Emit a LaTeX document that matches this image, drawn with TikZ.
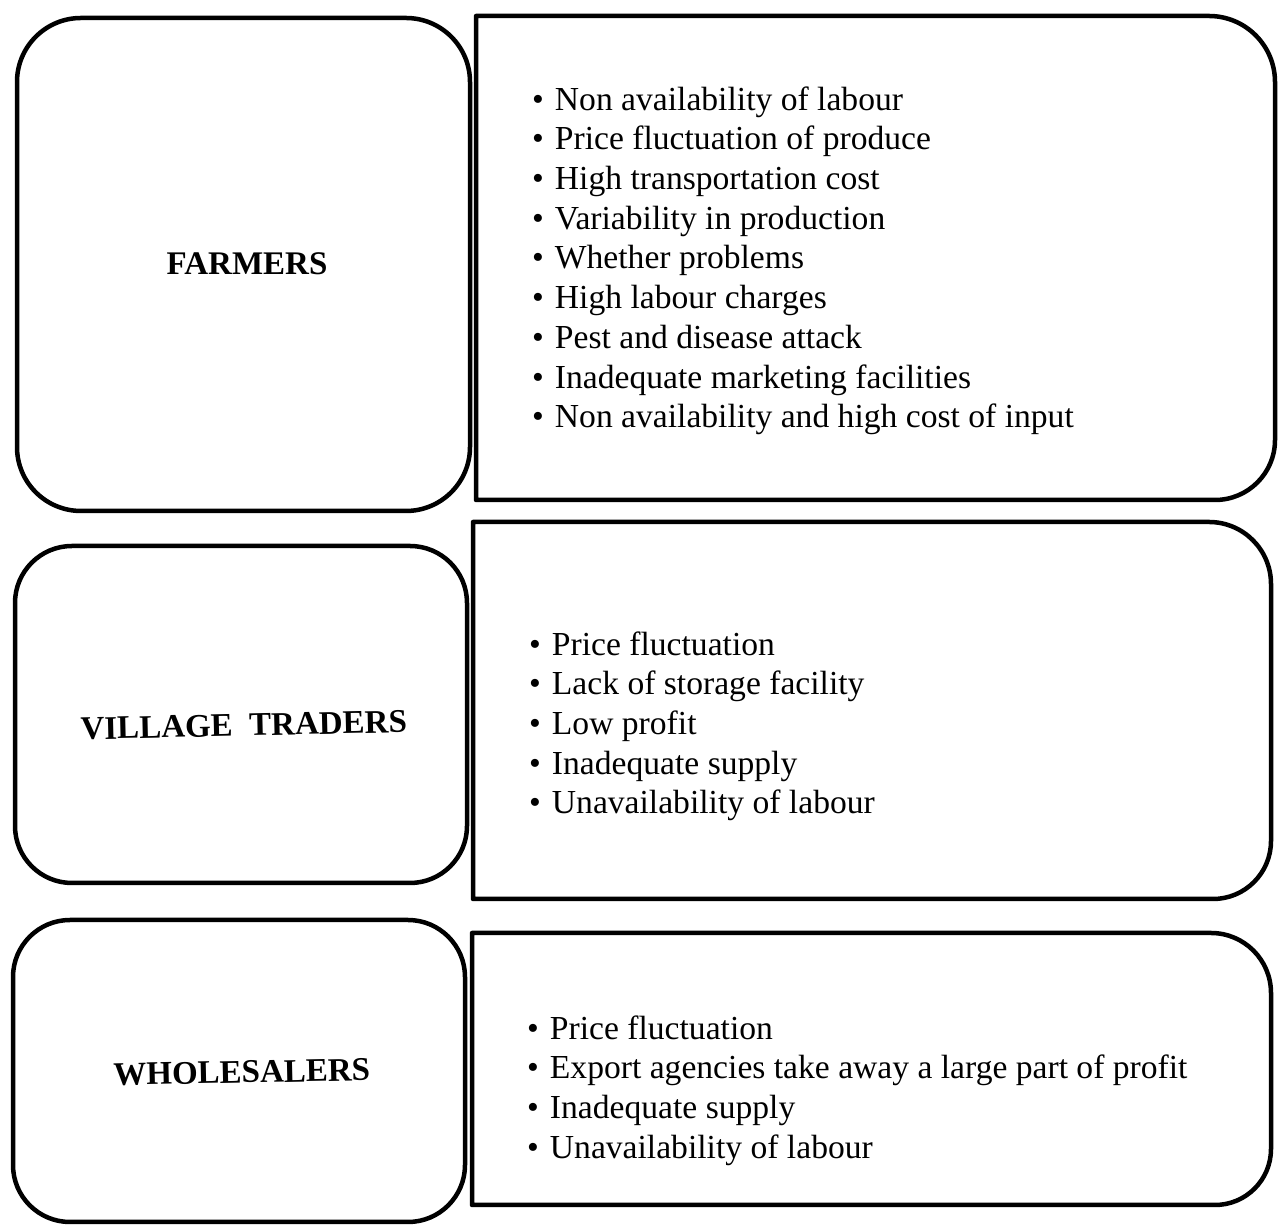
\documentclass[tikz,border=0pt]{standalone}
\usepackage{fontspec}
\setmainfont{Liberation Serif}
\begin{document}
\begin{tikzpicture}[x=1pt,y=1pt,
  frame/.style={draw=black, line width=4.5pt, line join=round},
  title/.style={font=\fontsize{33}{38}\selectfont\bfseries, inner sep=0pt, anchor=base},
  itemlist/.style={font=\fontsize{33.6}{39.7}\selectfont, inner sep=0pt, anchor=north west, align=left}]
  % page
  \fill[white] (0,0) rectangle (1278,1228);
  \useasboundingbox (0,0) rectangle (1278,1228);

  % --- Farmers row ---
  \draw[frame, rounded corners=64] (17,717) rectangle (470,1210);
  \draw[frame] (476,728) -- (476,1212) -- (1209,1212)
     arc[start angle=90,end angle=0,radius=66] -- (1275,788)
     arc[start angle=0,end angle=-90,radius=60] -- cycle;
  \node[title] (farmers) at (247,953) {FARMERS};
  \node[itemlist] (farmersList) at (532,1145.8) {\strut\textbullet\hspace{11pt}Non availability of labour\\
    \textbullet\hspace{11pt}Price fluctuation of produce\\
    \textbullet\hspace{11pt}High transportation cost\\
    \textbullet\hspace{11pt}Variability in production\\
    \textbullet\hspace{11pt}Whether problems\\
    \textbullet\hspace{11pt}High labour charges\\
    \textbullet\hspace{11pt}Pest and disease attack\\
    \textbullet\hspace{11pt}Inadequate marketing facilities\\
    \textbullet\hspace{11pt}Non availability and high cost of input};

  % --- Village traders row ---
  \draw[frame, rounded corners=57] (15,345) rectangle (467,682);
  \draw[frame] (473,329) -- (473,706) -- (1209,706)
     arc[start angle=90,end angle=0,radius=62] -- (1271,387)
     arc[start angle=0,end angle=-90,radius=58] -- cycle;
  \node[title, rotate=1.3] (traders) at (244,492) {VILLAGE\ \ TRADERS};
  \node[itemlist] (tradersList) at (529,600.8) {\strut\textbullet\hspace{11pt}Price fluctuation\\
    \textbullet\hspace{11pt}Lack of storage facility\\
    \textbullet\hspace{11pt}Low profit\\
    \textbullet\hspace{11pt}Inadequate supply\\
    \textbullet\hspace{11pt}Unavailability of labour};

  % --- Wholesalers row ---
  \draw[frame, rounded corners=57] (13,6) rectangle (465,308);
  \draw[frame] (472,23) -- (472,295) -- (1211,295)
     arc[start angle=90,end angle=0,radius=60] -- (1271,79)
     arc[start angle=0,end angle=-90,radius=56] -- cycle;
  \node[title, rotate=1.2] (wholesalers) at (242,145) {WHOLESALERS};
  \node[itemlist] (wholesalersList) at (527,216.8) {\strut\textbullet\hspace{11pt}Price fluctuation\\
    \textbullet\hspace{11pt}Export agencies take away a large part of profit\\
    \textbullet\hspace{11pt}Inadequate supply\\
    \textbullet\hspace{11pt}Unavailability of labour};
\end{tikzpicture}
\end{document}
